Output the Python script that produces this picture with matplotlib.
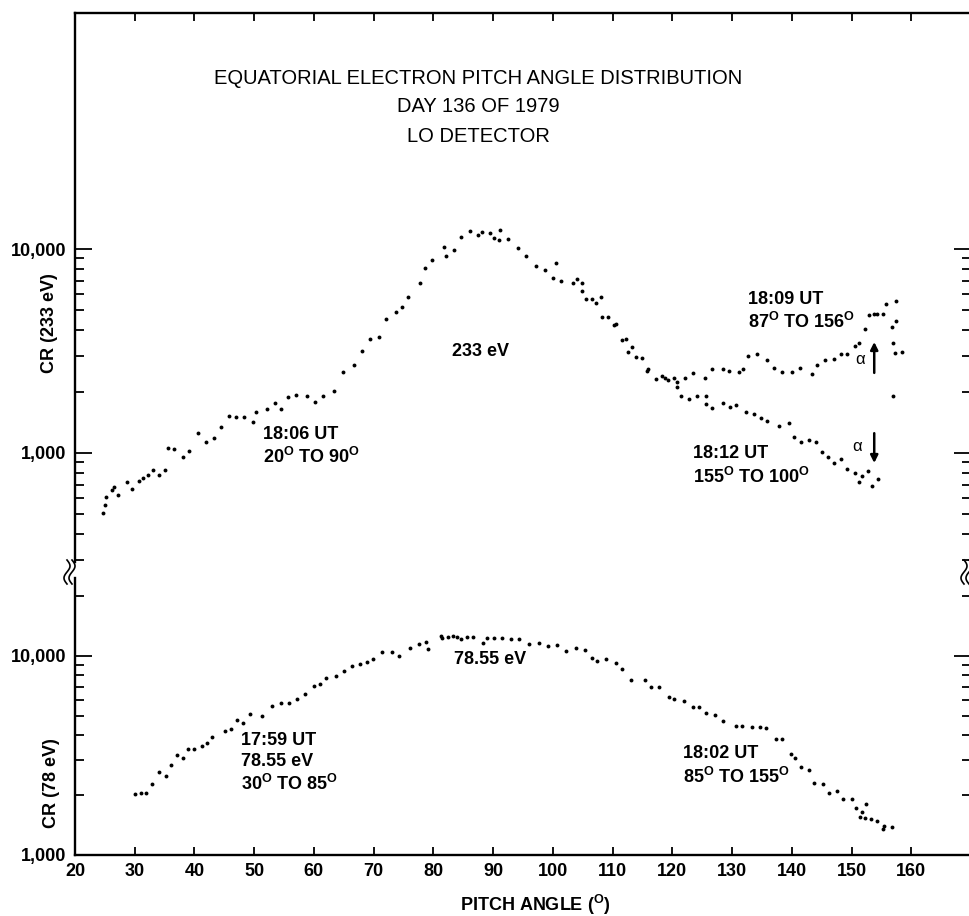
import numpy as np
import matplotlib
matplotlib.use('Agg')
import matplotlib.pyplot as plt
from matplotlib.ticker import FixedLocator, NullFormatter, FuncFormatter
from matplotlib.lines import Line2D

plt.rcParams['font.family'] = ['Liberation Sans', 'DejaVu Sans']
plt.rcParams['font.weight'] = 'bold'
plt.rcParams['mathtext.default'] = 'regular'

# 233 eV, 18:06 UT scan (20 -> 90 deg)
ang_1806 = [24.7, 25.0, 25.2, 26.2, 26.5, 27.2, 28.7, 29.5, 30.7, 31.4, 32.2, 33.1, 34.1, 35.1,
            35.6, 36.6, 38.1, 39.1, 40.6, 41.9, 43.3, 44.5, 45.8, 47.0, 48.3, 49.8, 50.3, 52.2,
            53.5, 54.5, 55.7, 57.0, 58.9, 60.2, 61.5, 63.4, 64.9, 66.7, 68.1, 69.4, 70.9, 72.1,
            73.8, 74.8, 75.8, 77.8, 78.6, 79.8, 81.8, 82.1, 83.5, 84.7, 86.2, 87.5, 88.2, 89.5]
cr_1806 = [508, 556, 608, 659, 681, 622, 721, 667, 729, 754, 780, 826, 780, 826,
           1059, 1047, 955, 1023, 1254, 1132, 1186, 1341, 1517, 1500, 1500, 1419, 1589, 1644,
           1759, 1644, 1884, 1924, 1904, 1778, 1904, 2014, 2494, 2698, 3162, 3624, 3705, 4539,
           4909, 5200, 5823, 6813, 8070, 8834, 10230, 9240, 9890, 11450, 12250, 11710, 12110, 11980]

# 233 eV, 18:09 UT scan (87 -> 156 deg)
ang_1809 = [90.2, 91.0, 91.2, 92.5, 94.2, 95.5, 97.1, 98.6, 100.6, 100.1, 101.4, 103.4, 104.1,
            104.9, 104.8, 105.6, 106.6, 107.3, 108.1, 108.3, 109.3, 110.3, 110.6, 111.5, 112.3,
            112.5, 113.3, 114.0, 115.0, 116.0, 115.8, 117.3, 118.2, 118.7, 119.2, 120.2, 120.8,
            120.8, 122.2, 123.5, 125.4, 126.7, 128.4, 129.5, 131.1, 131.9, 132.7, 134.1, 135.9,
            137.1, 138.4, 140.1, 141.3, 143.3, 144.3, 145.5, 147.1, 148.3, 149.3, 150.5, 151.3,
            152.2, 153.0, 153.7, 154.3, 155.3, 155.8, 157.5, 156.7, 157.5, 156.9, 157.2, 158.5, 156.9]
cr_1809 = [11320, 11070, 12390, 11190, 10110, 9240, 8260, 7890, 8530, 7210, 6970, 6810, 7130,
           6810, 6220, 5690, 5690, 5430, 5820, 4640, 4640, 4240, 4290, 3580, 3620,
           3130, 3310, 2960, 2930, 2590, 2530, 2310, 2390, 2330, 2280, 2330, 2230,
           2110, 2330, 2470, 2330, 2580, 2580, 2530, 2500, 2580, 2990, 3060, 2860,
           2610, 2500, 2500, 2610, 2440, 2700, 2860, 2890, 3060, 3060, 3350, 3460,
           4060, 4740, 4800, 4800, 4800, 5370, 5560, 4150, 4440, 3460, 3090, 3120, 1900]

# 233 eV, 18:12 UT scan (155 -> 100 deg)
ang_1812 = [121.5, 122.8, 124.2, 125.7, 125.7, 126.7, 128.5, 129.7, 130.7, 132.4, 133.6, 134.9,
            135.9, 137.9, 139.6, 140.4, 141.6, 142.8, 144.1, 145.0, 146.0, 147.1, 148.3, 149.3,
            150.5, 151.2, 151.8, 152.7, 153.5, 154.5]
cr_1812 = [1900, 1840, 1900, 1900, 1740, 1660, 1760, 1680, 1720, 1590, 1550, 1490,
           1440, 1360, 1400, 1200, 1130, 1160, 1130, 1010, 955, 893, 935, 836,
           798, 721, 771, 816, 689, 746]

# 78.55 eV, 17:59 UT scan (30 -> 85 deg)
ang_1759 = [30.1, 31.1, 31.9, 32.9, 34.1, 35.2, 36.1, 37.1, 38.1, 38.9, 39.9, 41.3, 42.1, 42.9,
            45.1, 46.1, 47.1, 48.1, 49.3, 51.3, 53.0, 54.5, 55.8, 57.2, 58.5, 60.0, 61.0, 62.0,
            63.7, 65.1, 66.4, 67.7, 68.9, 69.9, 71.4, 73.1, 74.3, 76.1, 77.6, 78.8, 79.1, 81.3,
            81.5, 82.5, 83.3, 84.0, 84.7]
cr_1759 = [2030, 2050, 2050, 2275, 2610, 2490, 2830, 3180, 3070, 3410, 3410, 3530, 3660, 3920,
           4200, 4300, 4770, 4600, 5120, 4990, 5610, 5810, 5810, 6080, 6440, 7060, 7230, 7750,
           7930, 8410, 8910, 9120, 9330, 9660, 10470, 10470, 10000, 10970, 11490, 11760, 10840, 12600,
           12320, 12450, 12600, 12450, 12170]

# 78.55 eV, 18:02 UT scan (85 -> 155 deg)
ang_1802 = [85.7, 86.7, 88.3, 89.0, 90.2, 91.5, 93.0, 94.4, 96.0, 97.7, 99.2, 100.7, 102.2, 103.9,
            105.3, 106.6, 107.4, 108.9, 110.5, 111.6, 113.1, 115.5, 116.5, 117.8, 119.5, 120.3,
            122.0, 123.4, 124.5, 125.7, 127.2, 128.5, 130.7, 131.7, 133.4, 134.6, 135.7, 137.3,
            138.3, 139.8, 140.6, 141.6, 142.8, 143.8, 145.3, 146.3, 147.5, 148.6, 150.0, 150.8,
            152.5, 151.8, 151.5, 152.3, 153.3, 154.3, 155.2, 155.4, 156.7]
cr_1802 = [12450, 12450, 11620, 12320, 12320, 12320, 12170, 12170, 11490, 11620, 11230, 11350, 10590, 10970,
           10720, 9770, 9440, 9660, 9220, 8600, 7570, 7570, 6990, 6990, 6220, 6080,
           5940, 5550, 5550, 5180, 5060, 4710, 4450, 4450, 4390, 4390, 4350, 3830,
           3830, 3220, 3070, 2770, 2670, 2300, 2275, 2050, 2100, 1910, 1910, 1720,
           1800, 1640, 1550, 1540, 1520, 1480, 1350, 1400, 1380]

angle_ticks = [20, 30, 40, 50, 60, 70, 80, 90, 100, 110, 120, 130, 140, 150, 160]
hi_major = [1000, 10000]
hi_minor = [300, 400, 500, 600, 700, 800, 900, 2000, 3000, 4000, 5000, 6000, 7000, 8000, 9000]
lo_major = [1000, 10000]
lo_minor = [2000, 3000, 4000, 5000, 6000, 7000, 8000, 9000, 20000]

W, H = 969, 916


def fx(px):
    return px / W


def fy(py):
    return 1 - py / H


fig = plt.figure(figsize=(W / 100, H / 100), dpi=100)
ax_hi = fig.add_axes([fx(75), fy(567), fx(971) - fx(75), fy(13) - fy(567)])
ax_lo = fig.add_axes([fx(75), fy(855), fx(971) - fx(75), fy(567) - fy(855)])

for ax in (ax_hi, ax_lo):
    ax.set_xlim(20, 170)
    ax.set_yscale('log')
    ax.patch.set_alpha(0)
    ax.spines['right'].set_visible(False)
    for s in ('left', 'top', 'bottom'):
        ax.spines[s].set_linewidth(1.7)
    ax.tick_params(axis='y', which='major', direction='in', length=12.5, width=1.3,
                   left=True, right=True, labelsize=13, pad=6)
    ax.tick_params(axis='y', which='minor', direction='in', length=6.5, width=1.3,
                   left=True, right=True)
    ax.yaxis.set_major_formatter(FuncFormatter(lambda v, p: f'{v:,.0f}'))
    ax.yaxis.set_minor_formatter(NullFormatter())

ax_hi.set_ylim(276, 143600)
ax_lo.set_ylim(1000, 28000)
ax_hi.yaxis.set_major_locator(FixedLocator(hi_major))
ax_hi.yaxis.set_minor_locator(FixedLocator(hi_minor))
ax_lo.yaxis.set_major_locator(FixedLocator(lo_major))
ax_lo.yaxis.set_minor_locator(FixedLocator(lo_minor))

ax_hi.spines['bottom'].set_visible(False)
ax_lo.spines['top'].set_visible(False)
ax_hi.spines['left'].set_bounds(292, 143600)
ax_lo.spines['left'].set_bounds(1000, 24700)

ax_hi.set_xticks(angle_ticks[1:])
ax_hi.tick_params(axis='x', bottom=False, top=True, labelbottom=False, direction='in',
                  length=6, width=1.3)
ax_lo.set_xticks(angle_ticks)
ax_lo.tick_params(axis='x', top=False, bottom=True, direction='in', length=6, width=1.3,
                  labelsize=13, pad=6)

dot = dict(ls='none', marker='o', ms=2.8, color='black', mew=0)
ax_hi.plot(ang_1806, cr_1806, **dot)
ax_hi.plot(ang_1809, cr_1809, **dot)
ax_hi.plot(ang_1812, cr_1812, **dot)
ax_lo.plot(ang_1759, cr_1759, **dot)
ax_lo.plot(ang_1802, cr_1802, **dot)

deg = r'$^{\mathregular{O}}$'
txt = dict(fontsize=13, fontweight='bold', ha='left', va='center', linespacing=1.25)
ax_hi.text(83.1, 3130, '233 eV', **txt)
ax_hi.text(51.5, 1080, '18:06 UT\n20' + deg + ' TO 90' + deg, **txt)
ax_hi.text(132.6, 4960, '18:09 UT\n87' + deg + ' TO 156' + deg, **txt)
ax_hi.text(123.4, 863, '18:12 UT\n155' + deg + ' TO 100' + deg, **txt)
ax_lo.text(83.5, 9550, '78.55 eV', **txt)
ax_lo.text(47.8, 2900, '17:59 UT\n78.55 eV\n30' + deg + ' TO 85' + deg, **txt)
ax_lo.text(121.8, 2800, '18:02 UT\n85' + deg + ' TO 155' + deg, **txt)

arrow = dict(arrowstyle='-|>', color='black', lw=1.8, mutation_scale=11, shrinkA=0, shrinkB=0)
ax_hi.annotate('', xy=(153.8, 3500), xytext=(153.8, 2470), arrowprops=arrow)
ax_hi.annotate('', xy=(153.8, 893), xytext=(153.8, 1250), arrowprops=arrow)
ax_hi.text(152.2, 2860, 'α', fontsize=12, fontweight='normal', ha='right', va='center')
ax_hi.text(151.8, 1070, 'α', fontsize=12, fontweight='normal', ha='right', va='center')

fig.text(fx(50), fy(323), 'CR (233 eV)', rotation=90, ha='center', va='center',
         fontsize=13, fontweight='bold')
fig.text(fx(52), fy(783), 'CR (78 eV)', rotation=90, ha='center', va='center',
         fontsize=13, fontweight='bold')
fig.text(fx(535), fy(905), 'PITCH ANGLE (' + deg + ')', ha='center', va='center',
         fontsize=13, fontweight='bold')

title_font = ['Liberation Sans Narrow', 'Liberation Sans', 'DejaVu Sans']
title_kw = dict(ha='center', va='center', fontsize=14.5, fontweight='normal', family=title_font)
fig.text(fx(478), fy(78), 'EQUATORIAL ELECTRON PITCH ANGLE DISTRIBUTION', **title_kw)
fig.text(fx(478), fy(107), 'DAY 136 OF 1979', **title_kw)
fig.text(fx(478), fy(137), 'LO DETECTOR', **title_kw)

# axis break marks
t = np.linspace(0, 1, 40)
for x0 in (67, 72, 964, 969):
    xs = x0 + 3 * np.sin(2 * np.pi * t)
    ys = 560 + 24 * t
    fig.add_artist(Line2D(fx(xs), fy(ys), color='black', lw=1.2, transform=fig.transFigure))

fig.savefig('out.png', dpi=100)
